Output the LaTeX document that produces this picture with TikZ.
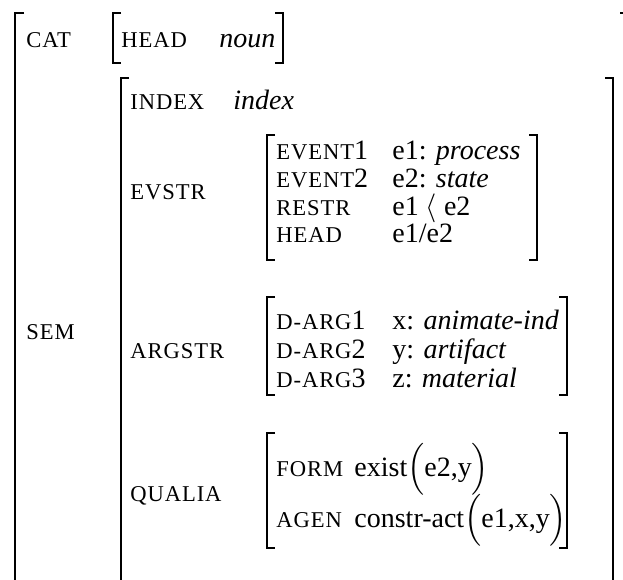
\documentclass[tikz,border=0pt]{standalone}
\usepackage{amsmath}
\usepackage{fontspec}
\setmainfont{Liberation Serif}
\newfontfamily\featfont[LetterSpace=4]{Liberation Serif}
\newcommand{\feat}[1]{{\featfont\fontsize{11.3}{13}\selectfont #1}}
\newcommand{\bigpar}[1]{\smash{$\Big#1$}}

\begin{document}
\begin{tikzpicture}[x=0.5pt, y=-0.5pt, font=\fontsize{14}{16}\selectfont,
  every node/.style={anchor=base west, inner sep=0pt},
  brak/.style={line width=1pt}]
\useasboundingbox (0,0) rectangle (623,580);
\clip (0,0) rectangle (623,580);
% outer matrix
\draw [brak] (24,13) -- (15,13) -- (15,600);
\draw [brak] (620,13) -- (628,13) -- (628,600);
\node (cat) at (26,47) {\feat{CAT}};
\node (sem) at (26,339) {\feat{SEM}};
% CAT value
\draw [brak] (121,13) -- (113,13) -- (113,63) -- (121,63);
\draw [brak] (275,13) -- (283,13) -- (283,63) -- (275,63);
\node (head) at (121,47) {\feat{HEAD}};
\node (noun) at (219,47) {\textit{noun}};
% SEM value
\draw [brak] (129,78) -- (121,78) -- (121,600);
\draw [brak] (605,78) -- (613,78) -- (613,600);
\node (index) at (130,109) {\feat{INDEX}};
\node (indexv) at (233,109) {\textit{index}};
% EVSTR
\node (evstr) at (130,199) {\feat{EVSTR}};
\draw [brak] (275,135) -- (267,135) -- (267,260) -- (275,260);
\draw [brak] (529,135) -- (537,135) -- (537,260) -- (529,260);
\node (ev1) at (276,159) {\feat{EVENT}1};
\node (ev1v) at (392,159) {e1: \textit{process}};
\node (ev2) at (276,187) {\feat{EVENT}2};
\node (ev2v) at (392,187) {e2: \textit{state}};
\node (restr) at (276,215) {\feat{RESTR}};
\node (restrv) at (392,215) {e1 \smash{$\langle$} e2};
\node (evhead) at (276,242) {\feat{HEAD}};
\node (evheadv) at (392,242) {e1/e2};
% ARGSTR
\node (argstr) at (130,358) {\feat{ARGSTR}};
\draw [brak] (275,297) -- (267,297) -- (267,395) -- (275,395);
\draw [brak] (559,297) -- (567,297) -- (567,395) -- (559,395);
\node (arg1) at (276,329) {\feat{D-ARG}1};
\node (arg1v) at (392,329) {x: \textit{animate-ind}};
\node (arg2) at (276,358) {\feat{D-ARG}2};
\node (arg2v) at (392,358) {y: \textit{artifact}};
\node (arg3) at (276,387) {\feat{D-ARG}3};
\node (arg3v) at (392,387) {z: \textit{material}};
% QUALIA
\node (qualia) at (130,501) {\feat{QUALIA}};
\draw [brak] (275,433) -- (267,433) -- (267,548) -- (275,548);
\draw [brak] (559,433) -- (567,433) -- (567,548) -- (559,548);
\node (form) at (276,476) {\feat{FORM}};
\node (formv) at (354,476) {exist\bigpar(e2,y\bigpar)};
\node (agen) at (276,527) {\feat{AGEN}};
\node (agenv) at (354,527) {constr-act\bigpar(e1,x,y\bigpar)};
\end{tikzpicture}
\end{document}
